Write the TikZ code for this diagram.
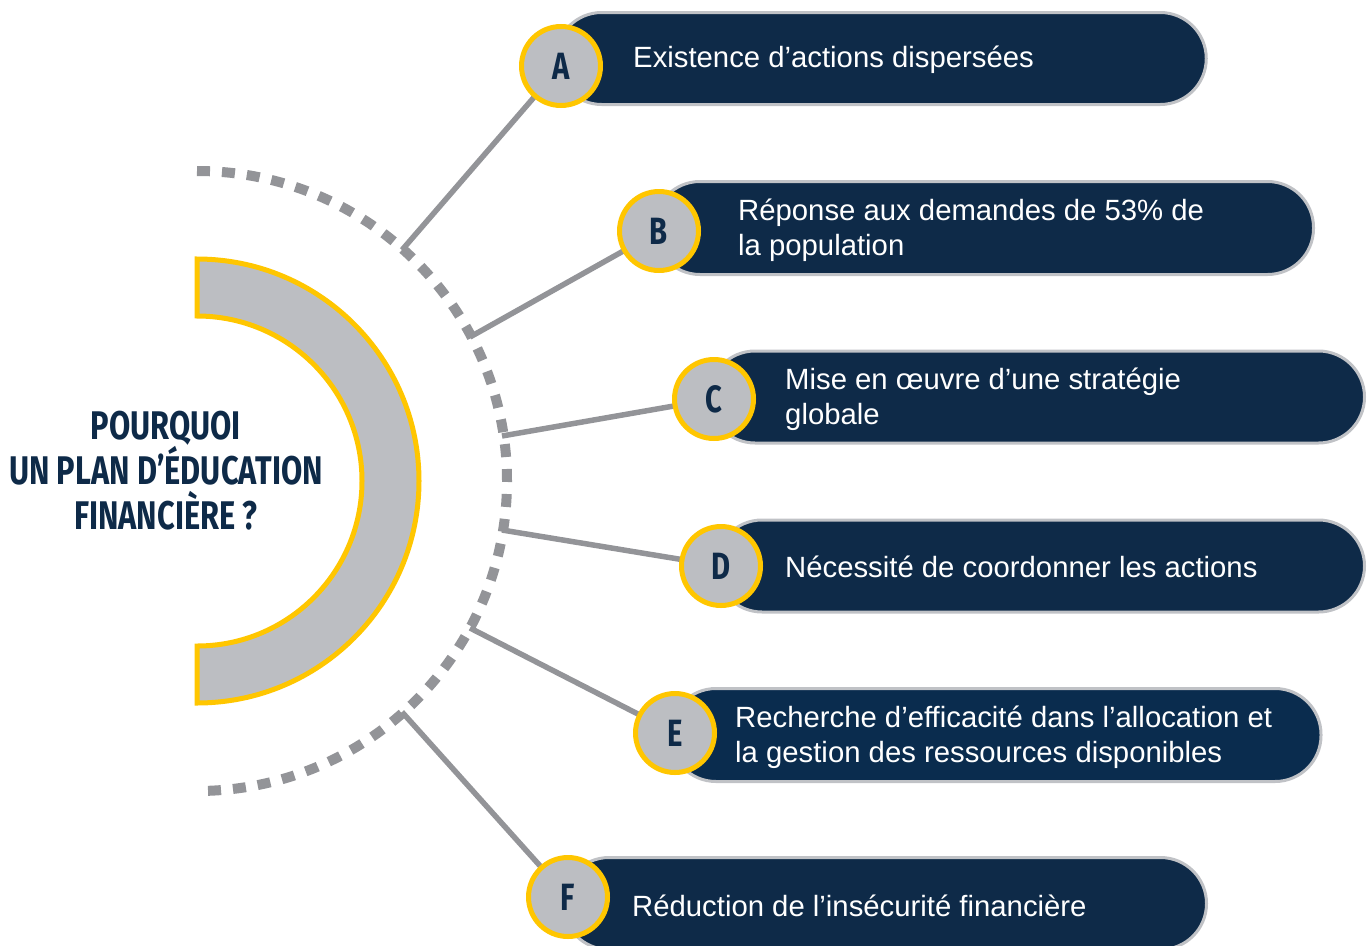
\documentclass[tikz,border=0pt]{standalone}
\usepackage{fontspec}
\setmainfont{Liberation Sans}
\newfontfamily\condfont{Fira Sans}[FakeStretch=0.77]
\usetikzlibrary{backgrounds}
\definecolor{navy}{RGB}{14,42,72}
\definecolor{navyb}{RGB}{10,44,78}
\definecolor{ringgray}{RGB}{188,190,194}
\definecolor{gold}{RGB}{255,198,0}
\definecolor{linegray}{RGB}{147,148,152}
\definecolor{pillborder}{RGB}{192,194,198}
\tikzset{
  pill/.style={draw=pillborder, line width=3pt, fill=navy, rounded corners=46pt, inner sep=0pt},
  pilltext/.style={anchor=west, inner sep=0pt, text=white, align=left, font=\fontsize{29.3}{35}\selectfont},
  badge/.style={circle, draw=gold, line width=5pt, fill=ringgray, minimum size=79pt, inner sep=0pt, text=navy, font=\condfont\bfseries\fontsize{38}{38}\selectfont},
  conn/.style={draw=linegray, line width=5.5pt},
  dotarc/.style={draw=linegray, line width=10pt, dash pattern=on 13pt off 12pt},
  ring/.style={draw=gold, line width=5pt, fill=ringgray}
}
\begin{document}
\begin{tikzpicture}[x=1pt,y=-1pt]
\useasboundingbox (0,0) rectangle (1367,945);
% centre ring
\coordinate (o) at (197,481);
\path[ring] (197,259) arc[start angle=90, end angle=-90, radius=222pt] -- (197,646) arc[start angle=-90, end angle=90, radius=165pt] -- cycle;
\path[dotarc] (197,171) arc[start angle=90, end angle=-90, radius=310pt];
\node[text=navy, align=center, font=\condfont\bfseries\fontsize{40}{45}\selectfont] (title) at (166,471) {POURQUOI\\UN PLAN D’ÉDUCATION\\FINANCIÈRE ?};
% pills
\node[pill, minimum width=650.5pt, minimum height=92pt] (pa) at (881,58.5) {};
\node[pill, minimum width=659.5pt, minimum height=93pt] (pb) at (983.75,228) {};
\node[pill, minimum width=655.5pt, minimum height=92pt] (pc) at (1036.75,397) {};
\node[pill, minimum width=648.5pt, minimum height=92pt] (pd) at (1040.25,566) {};
\node[pill, fill=navyb, minimum width=651pt, minimum height=93pt] (pe) at (995.5,735) {};
\node[pill, minimum width=643.5pt, minimum height=92pt] (pf) at (884.75,903.5) {};
% texts
\node[pilltext] (ta) at (633,59.5) {Existence d’actions dispersées};
\node[pilltext] (tb) at (738,230) {Réponse aux demandes de 53\% de\\la population};
\node[pilltext] (tc) at (785,399) {Mise en œuvre d’une stratégie\\globale};
\node[pilltext] (td) at (785,567) {Nécessité de coordonner les actions};
\node[pilltext] (te) at (735,737) {Recherche d’efficacité dans l’allocation et\\la gestion des ressources disponibles};
\node[pilltext] (tf) at (632,906) {Réduction de l’insécurité financière};
% badges
\node[badge] (ca) at (561,66) {A};
\node[badge] (cb) at (659,231) {B};
\node[badge] (cc) at (714,399) {C};
\node[badge] (cd) at (721,566) {D};
\node[badge] (ce) at (675,733) {E};
\node[badge] (cf) at (568,897) {F};
% connectors
\coordinate (a0) at (402,250);
\coordinate (b0) at (470,337);
\coordinate (c0) at (502,436);
\coordinate (d0) at (502,530);
\coordinate (e0) at (470,628);
\coordinate (f0) at (402,712);
\begin{scope}[on background layer]
\draw[conn] (a0) -- (ca.center);
\draw[conn] (b0) -- (cb.center);
\draw[conn] (c0) -- (cc.center);
\draw[conn] (d0) -- (cd.center);
\draw[conn] (e0) -- (ce.center);
\draw[conn] (f0) -- (cf.center);
\end{scope}
\end{tikzpicture}
\end{document}
